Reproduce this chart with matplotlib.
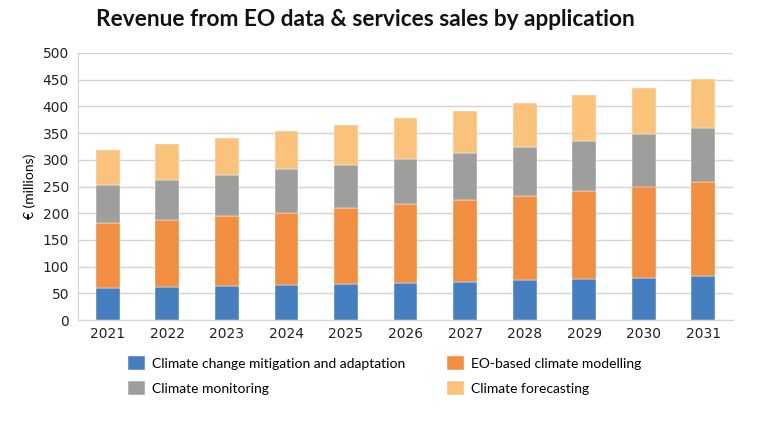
import matplotlib
matplotlib.use("Agg")
import matplotlib.pyplot as plt
import numpy as np

years = ["2021", "2022", "2023", "2024", "2025", "2026", "2027", "2028", "2029", "2030", "2031"]
mitigation = [60, 61, 64, 65, 67, 69, 72, 75, 77, 79, 82]
modelling = [121, 127, 131, 136, 142, 149, 152, 158, 164, 171, 177]
monitoring = [72, 75, 76, 81, 82, 84, 88, 91, 95, 98, 101]
forecasting = [65, 67, 70, 72, 75, 77, 80, 82, 85, 87, 91]
series_names = ["Climate change mitigation and adaptation", "EO-based climate modelling",
                "Climate monitoring", "Climate forecasting"]
colors = ["#467FC0", "#F18E3F", "#9E9E9C", "#FAC27B"]

fig = plt.figure(figsize=(7.68, 4.21), dpi=100)
ax = fig.add_axes([78/768, 1-320/421, (733-78)/768, (320-53)/421])

x = np.arange(len(years))
bottom = np.zeros(len(years))
handles = []
for vals, c, name in zip([mitigation, modelling, monitoring, forecasting], colors, series_names):
    b = ax.bar(x, vals, width=0.4, bottom=bottom, color=c, label=name, zorder=3,
               edgecolor="white", linewidth=0.3)
    handles.append(b)
    bottom += np.array(vals)

ax.set_ylim(0, 500)
ax.set_xlim(-0.5, len(years) - 0.5)
ax.set_yticks(np.arange(0, 501, 50))
ax.set_xticks(x)
ax.set_xticklabels(years)
ax.grid(axis="y", color="#D4D4D4", linewidth=1, zorder=0)
for s in ["top", "right"]:
    ax.spines[s].set_visible(False)
ax.spines["bottom"].set_color("#D4D4D4")
ax.spines["left"].set_color("#D4D4D4")
ax.tick_params(axis="both", length=0, labelsize=10, colors="#222222")
ax.tick_params(axis="y", pad=6.5)
ax.tick_params(axis="x", pad=5)
for lab in ax.get_xticklabels() + ax.get_yticklabels():
    lab.set_family("DejaVu Sans")
ax.set_ylabel("€ (millions)", fontsize=10, family="Lato", labelpad=5)

fig.text(365/768, 1-20/421, "Revenue from EO data & services sales by application",
         ha="center", va="center", fontsize=16.3, fontweight="bold", family="Lato", color="#111111")

leg = fig.legend([handles[0], handles[2], handles[1], handles[3]],
                 [series_names[0], series_names[2], series_names[1], series_names[3]],
                 ncol=2, loc="upper left", bbox_to_anchor=(115/768, 1-343/421),
                 frameon=False, prop={"family": "Lato", "size": 10},
                 handlelength=1.25, handleheight=1.25, handletextpad=0.5,
                 columnspacing=3.0, labelspacing=0.75)

fig.savefig("out.png", dpi=100)
